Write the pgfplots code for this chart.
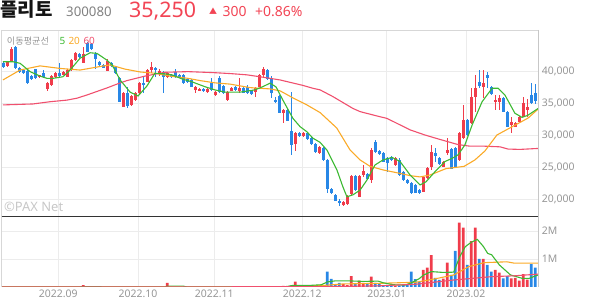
\documentclass[border=0pt]{standalone}
\usepackage{pgfplots}
\pgfplotsset{compat=1.18}
\usepackage{pgfplotstable}
\usepackage{fontspec}
\setmainfont{Noto Sans}
\newfontfamily\kr{Noto Sans CJK KR}
\definecolor{upred}{RGB}{240,60,75}
\definecolor{dnblue}{RGB}{40,135,230}
\definecolor{maa}{RGB}{60,185,50}
\definecolor{mab}{RGB}{250,170,40}
\definecolor{mac}{RGB}{240,80,110}
\definecolor{gridc}{RGB}{236,236,236}
\definecolor{tickc}{RGB}{150,150,150}
\definecolor{hdrred}{RGB}{242,68,84}
\definecolor{frame}{RGB}{215,215,215}

\pgfplotstableread{
i t b h l v
1 41400 40800 41500 40700 0
2 43400 41600 43800 41500 0
9 39350 39050 39450 38900 0
11 38150 37150 38250 36950 0
12 39200 37800 39350 37700 0
13 39750 39100 39900 38950 0
15 39850 39400 40000 39300 0
16 40150 39100 40300 39000 0
17 41700 40150 41850 40050 0
18 42750 41700 42900 41600 0
20 42700 41300 43800 41200 70000
26 41600 40050 41800 39950 0
30 36500 34400 36650 34300 0
32 36100 34700 36250 34600 0
33 36500 35450 36650 35350 0
34 38100 36500 38250 36400 0
36 40150 38350 40300 38250 0
37 40550 40150 41450 39650 0
39 40000 39650 40250 39150 0
41 39650 39000 39800 38850 150000
48 37550 37050 37700 36600 0
49 37250 36900 37400 36800 0
51 37250 36700 37400 36600 0
53 36750 36250 36900 36100 0
56 36750 35450 36900 35350 0
57 37300 36900 37450 36800 0
59 37300 36900 38850 36500 0
63 37300 36750 37550 35950 0
64 39400 37550 39550 37450 0
65 40250 39400 40600 39100 0
70 33900 33500 34050 31900 40000
73 30350 28600 30500 27550 190000
75 30350 29850 30500 29700 30000
79 28100 27150 28250 27050 50000
85 19600 19050 19750 18950 100000
86 20450 19200 20600 19100 70000
87 23600 20800 23750 20700 390000
89 23600 20350 23750 20250 230000
90 24400 23750 25300 23500 150000
92 27650 22950 27900 22450 370000
98 26350 25300 26600 25200 50000
105 23500 21150 23650 21050 610000
106 24800 23250 25000 23150 690000
107 27400 25050 28450 24600 1140000
110 25850 25050 26000 24950 300000
111 27650 27150 29500 26900 870000
114 30250 26100 30400 26000 2300000
115 32350 29500 34700 29400 2120000
117 36000 31850 37300 31750 1640000
118 37300 36000 39400 33650 2120000
120 38100 37550 40150 35750 1000000
123 35450 35100 36250 33900 610000
124 35750 35200 36250 33900 510000
127 32100 31550 32850 30250 310000
128 31850 31300 32000 31200 330000
129 32850 32100 33000 31950 230000
130 34950 32850 36000 32750 460000
131 34400 33900 35700 32750 260000
}\up

\pgfplotstableread{
i t b h l v
0 41300 40650 41550 40450 0
3 43800 40400 43900 40300 0
4 40400 39900 40600 39750 0
5 40150 39650 40300 39500 0
6 40000 38100 40100 37950 0
7 39200 38800 39350 38600 0
8 40250 38850 40350 38700 0
10 39650 39100 40100 38950 0
14 39700 39200 41200 39050 0
19 42650 42250 42800 42100 0
21 44300 43000 44500 42900 0
22 44200 43500 44400 43300 0
23 42650 41850 43000 40300 0
24 41450 40950 41600 40800 0
25 40900 40500 41050 40400 0
27 41300 40800 41450 40650 0
28 40650 39650 40800 39500 0
29 38850 35200 39000 35100 0
31 36500 34550 37550 34200 0
35 38150 37800 39100 36500 0
38 40450 40150 40600 39100 0
40 39900 39100 39950 36500 0
42 39350 39100 39500 38950 0
43 39800 39000 40250 38900 0
44 39350 39100 39500 38950 0
45 39350 38050 39500 37950 0
46 38700 38300 38850 38150 0
47 38600 37550 38750 37450 0
50 37200 36850 37350 36750 0
52 38100 37050 38850 36950 0
54 38850 36750 39200 36500 0
55 37650 36500 37800 36400 0
58 37450 37050 37600 36950 0
60 37300 36600 37450 36500 0
61 37550 36500 37750 36350 0
62 36900 36400 37050 36250 0
66 40150 38700 40300 38600 0
67 38850 36500 39200 35750 0
68 35450 35200 35900 34950 0
69 36100 33500 36250 33400 0
71 33900 32250 34050 32150 30000
72 30650 28450 36750 26900 50000
74 30250 29850 30400 29700 40000
76 30350 29350 30500 29250 40000
77 29500 28600 29650 28450 30000
78 28600 27400 28750 27250 40000
80 27900 26100 28050 25950 40000
81 26100 21500 26250 21000 550000
82 21500 20900 21650 20750 290000
83 20650 19750 20800 19650 100000
84 19750 19350 19950 18900 150000
88 23600 21400 23750 21300 100000
91 23900 23100 24050 22950 120000
93 28950 27400 29200 27250 150000
94 27550 27050 27700 26900 100000
95 27250 25850 27400 25750 60000
96 26350 25600 26550 24250 50000
97 26600 26100 26750 25950 70000
99 26100 23750 26400 23650 60000
100 24250 22950 24400 22850 80000
101 22950 22550 23100 22400 100000
102 22450 20900 22600 20800 550000
103 22200 21000 22350 20900 280000
104 21400 21000 21550 20850 180000
108 27150 26750 27900 25800 330000
109 26350 25400 26500 25300 250000
112 27800 24750 27950 24650 430000
113 27900 25050 28100 24900 1290000
116 32350 30000 32500 29900 790000
119 38350 37700 40150 37300 1000000
121 39400 38950 39900 37300 790000
122 37550 36350 37700 36250 550000
125 35750 33650 35900 33550 310000
126 33650 31300 33800 31200 390000
132 36250 34950 38100 34850 820000
133 36500 35250 38000 34900 690000
}\down

\pgfplotsset{
  candlewick/.style={draw=none, mark=none, forget plot,
    error bars/.cd, y dir=both, y explicit, error mark=none,
    error bar style={draw=#1, line width=0.9bp}},
  candlebody/.style={draw=none, mark=none, forget plot,
    error bars/.cd, y dir=both, y explicit, error mark=none,
    error bar style={draw=#1, line width=2.7bp}},
  chartbase/.style={scale only axis, anchor=south west, width=536bp,
    xmin=-0.325, xmax=133.675,
    axis line style={draw=none}, tick style={draw=none}, major tick length=0pt,
    xtick={13.75,33.675,52.725,74.75,95.85,115.675},
    xmajorgrids, ymajorgrids, grid style={draw=gridc, line width=0.9bp},
    yticklabel pos=right, scaled y ticks=false,
    /pgf/number format/assume math mode=true,
    yticklabel style={font=\fontsize{10.5}{12}\selectfont, text=tickc, anchor=west, inner sep=0pt, xshift=3.7bp},
  },
}

\begin{document}
\begin{tikzpicture}
\useasboundingbox (0,0) rectangle (594bp,304bp);

% price panel
\begin{axis}[chartbase, at={(2bp,87bp)}, height=187bp,
  ymin=17187.5, ymax=46406.25,
  xticklabels={},
  ytick={20000,25000,30000,35000,40000},
  yticklabels={20,000,25,000,30,000,35,000,40,000},
  yticklabels={{20,000},{25,000},{30,000},{35,000},{40,000}},
]
\addplot[candlewick=upred] table[x=i, y expr={(\thisrow{h}+\thisrow{l})/2}, y error expr={(\thisrow{h}-\thisrow{l})/2}] {\up};
\addplot[candlebody=upred] table[x=i, y expr={(\thisrow{t}+\thisrow{b})/2}, y error expr={(\thisrow{t}-\thisrow{b})/2}] {\up};
\addplot[candlewick=dnblue] table[x=i, y expr={(\thisrow{h}+\thisrow{l})/2}, y error expr={(\thisrow{h}-\thisrow{l})/2}] {\down};
\addplot[candlebody=dnblue] table[x=i, y expr={(\thisrow{t}+\thisrow{b})/2}, y error expr={(\thisrow{t}-\thisrow{b})/2}] {\down};

\addplot[mac, line width=1.1bp] coordinates {(-0.1,34700) (7.4,34850) (11.7,35200) (15.9,35450) (18.4,35750) (20.9,36250) (23.4,36800) (25.9,37350) (28.4,37950) (30.9,38500) (35.4,39200) (40.4,39800) (46.2,39900) (52.4,39750) (56.7,39600) (60.9,39400) (64.7,39050) (69.2,38600) (74.9,37750) (77.4,37300) (79.2,37050) (82.4,36000) (87.4,34150) (89.2,33650) (94.2,32850) (95.9,32600) (101.7,30800) (105.4,30000) (109.2,29300) (113.7,28500) (116.7,28250) (120.4,28250) (124.2,28150) (126.2,27800) (129.2,27750) (133.7,27900)};
\addplot[mab, line width=1.1bp] coordinates {(-0.1,38600) (4.2,40150) (9.2,40800) (14.2,40400) (19.2,40150) (24.2,40700) (26.7,40950) (30.4,40300) (34.2,39850) (37.9,39650) (41.7,39200) (46.2,38850) (49.2,38500) (52.9,38150) (56.7,37950) (61.7,37400) (66.7,37200) (69.2,36900) (72.4,35800) (75.9,34700) (79.2,33500) (83.35,31100) (86.7,27650) (89.2,26100) (91.7,25100) (94.9,24550) (99.2,24000) (101.7,23650) (104.2,23450) (106.7,23750) (110.7,24750) (115.2,25100) (117.9,26100) (120.4,27500) (123.4,30000) (126.2,30950) (128.7,31800) (131.2,32650) (133.7,34050)};
\addplot[maa, line width=1.1bp] coordinates {(-0.1,41450) (2.4,41450) (4.2,41200) (6.7,39900) (9.2,39200) (10.9,38850) (12.4,38850) (14.9,39100) (16.7,40150) (19.2,42000) (21.7,42850) (23.4,42750) (25.9,41700) (27.2,40950) (29.2,38600) (31.7,36700) (33.7,36100) (35.9,37650) (37.9,39650) (40.4,39550) (42.2,39400) (44.7,38750) (47.2,38300) (50.4,37550) (52.9,37050) (55.4,36700) (59.2,36700) (62.9,37050) (64.7,37500) (66.7,38100) (68.2,37500) (69.9,35450) (72.4,32600) (74.2,31300) (75.9,30500) (77.4,29500) (79.2,28850) (80.9,27650) (83.4,24550) (84.9,21900) (85.9,20350) (87.4,20650) (89.2,21400) (90.9,22950) (92.9,25300) (94.9,26100) (97.2,26500) (99.2,25850) (101.7,23750) (104.2,22200) (105.7,22700) (107.9,24250) (110.4,25850) (112.2,26350) (113.7,26900) (115.4,28450) (117.2,31550) (119.7,35200) (122.2,37300) (123.7,37300) (125.4,36250) (127.9,33400) (129.7,32750) (131.2,33100) (133.7,34150)};
\end{axis}

% volume panel
\begin{axis}[chartbase, at={(2bp,17bp)}, height=70bp,
  ymin=0, ymax=2500000,
  xticklabels={2022.09,2022.10,2022.11,2022.12,2023.01,2023.02},
  xticklabel style={font=\fontsize{10.5}{12}\selectfont, text=tickc, anchor=north, inner sep=0pt, yshift=-3bp},
  ytick={1000000,2000000}, yticklabels={1M,2M},
]
\addplot[ybar, bar width=2.7bp, bar shift=0pt, fill=upred, draw=none, forget plot] table[x=i, y=v] {\up};
\addplot[ybar, bar width=2.7bp, bar shift=0pt, fill=dnblue, draw=none, forget plot] table[x=i, y=v] {\down};
\addplot[mab, line width=1.1bp] coordinates {(-0.3,0) (69.5,0) (75,40000) (80.5,60000) (85,110000) (93.7,130000) (103.2,170000) (107.9,290000) (112.6,430000) (116.4,730000) (120.2,870000) (125.9,900000) (127.8,850000) (133.7,850000)};
\addplot[maa, line width=1.1bp] coordinates {(-0.3,0) (18.5,0) (20,14000) (24,14000) (25,0) (40.5,0) (41,30000) (45,30000) (46,0) (69.5,0) (71,20000) (72.5,60000) (77,60000) (79.5,80000) (81,180000) (83,220000) (86,220000) (90,200000) (93.7,210000) (95,150000) (97.5,80000) (100.5,70000) (102,150000) (104,300000) (105.1,430000) (107,550000) (110,520000) (112.6,530000) (114.1,1080000) (115.5,1440000) (117,1600000) (118.5,1700000) (120,1450000) (121.1,1200000) (122.1,1150000) (124,790000) (126.8,430000) (129.7,310000) (131.5,310000) (133.7,430000)};
\addplot[mac, line width=1.1bp] coordinates {(-0.3,0) (80,10000) (93.7,40000) (103.2,100000) (112.6,250000) (117.4,310000) (122.1,370000) (127.8,400000) (133.7,460000)};
\end{axis}

% frame
\draw[frame, line width=0.9bp] (1.5bp,274bp) -- (538bp,274bp);
\draw[frame, line width=0.9bp] (1.5bp,274bp) -- (1.5bp,17bp);
\draw[black!22, line width=0.9bp] (538bp,274bp) -- (538bp,17bp);
\draw[black!80, line width=1bp] (1.5bp,87bp) -- (538bp,87bp);

% watermark
\node[anchor=west, inner sep=0pt, text=black!22] at (4bp,97bp) {\bfseries\fontsize{13}{13}\selectfont ©PAX Net};

% legend
\node[anchor=base west, inner sep=0pt, text=tickc] at (6.7bp,259.5bp) {\kr\fontsize{9.2}{10}\selectfont 이동평균선};
\node[anchor=base west, inner sep=0pt, text=maa] at (59.3bp,259.5bp) {\bfseries\fontsize{10}{10}\selectfont 5};
\node[anchor=base west, inner sep=0pt, text=mab] at (68.3bp,259.5bp) {\bfseries\fontsize{10}{10}\selectfont 20};
\node[anchor=base west, inner sep=0pt, text=mac] at (83.3bp,259.5bp) {\bfseries\fontsize{10}{10}\selectfont 60};

% header
\node[anchor=base west, inner sep=0pt, text=black!92] at (0bp,287.5bp) {\kr\bfseries\fontsize{19}{19}\selectfont 플리토};
\node[anchor=base west, inner sep=0pt, text=black!50] at (66bp,287.3bp) {\fontsize{13.3}{13.3}\selectfont 300080};
\node[anchor=base west, inner sep=0pt, text=hdrred] at (129bp,286.7bp) {\fontsize{21.5}{21.5}\selectfont 35,250};
\node[anchor=base west, inner sep=0pt, text=hdrred] at (209bp,289.5bp) {\kr\fontsize{8}{8}\selectfont ▲};
\node[anchor=base west, inner sep=0pt, text=hdrred] at (222.5bp,287.3bp) {\fontsize{14}{14}\selectfont 300};
\node[anchor=base west, inner sep=0pt, text=hdrred] at (255bp,287.3bp) {\fontsize{14}{14}\selectfont +0.86\%};
\end{tikzpicture}
\end{document}
